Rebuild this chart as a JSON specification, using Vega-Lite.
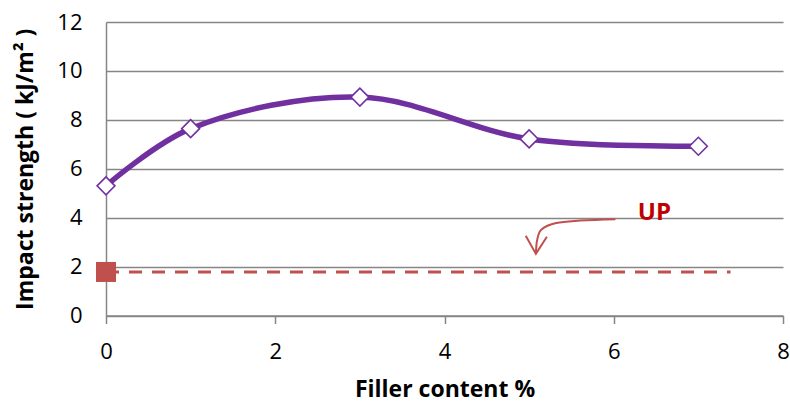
{
  "$schema": "https://vega.github.io/schema/vega-lite/v6.json",
  "width": 677,
  "height": 293.5,
  "autosize": {"type": "none"},
  "padding": {"left": 106, "top": 22, "right": 7, "bottom": 87},
  "background": "white",
  "config": {
    "view": {"stroke": null},
    "font": "Open Sans",
    "axis": {"labelFont": "Open Sans", "titleFont": "Open Sans", "labelColor": "black", "titleColor": "black"}
  },
  "datasets": {
    "impact": [
      {"filler": 0, "strength": 5.3},
      {"filler": 1, "strength": 7.64},
      {"filler": 3, "strength": 8.93},
      {"filler": 5, "strength": 7.22},
      {"filler": 7, "strength": 6.92}
    ],
    "up": [
      {"filler": 0, "strength": 1.78},
      {"filler": 7.38, "strength": 1.78}
    ],
    "arrow": [
      {"filler": 6.02, "strength": 3.94, "order": 1},
      {"filler": 5.6, "strength": 3.88, "order": 2},
      {"filler": 5.32, "strength": 3.78, "order": 3},
      {"filler": 5.14, "strength": 3.5, "order": 4},
      {"filler": 5.09, "strength": 3.0, "order": 5},
      {"filler": 5.08, "strength": 2.55, "order": 6}
    ],
    "head": [
      {"filler": 4.96, "strength": 3.26, "order": 1},
      {"filler": 5.08, "strength": 2.52, "order": 2},
      {"filler": 5.21, "strength": 3.22, "order": 3}
    ],
    "label": [
      {"filler": 6.48, "strength": 4.2, "text": "UP"}
    ]
  },
  "layer": [
    {
      "data": {"name": "impact"},
      "mark": {"type": "line", "color": "#7030A0", "strokeWidth": 5.5, "interpolate": "catmull-rom"},
      "encoding": {
        "x": {
          "field": "filler", "type": "quantitative",
          "scale": {"domain": [0, 8], "nice": false, "zero": false},
          "axis": {
            "title": "Filler content %", "values": [0, 2, 4, 6, 8], "format": "d", "grid": false,
            "domainColor": "#868686", "domainWidth": 1.5, "tickColor": "#868686", "tickWidth": 1.5, "tickSize": 8,
            "labelFontSize": 22, "labelPadding": 18, "labelFlush": false,
            "titleFontSize": 23, "titleFontWeight": "bold", "titlePadding": 16
          }
        },
        "y": {
          "field": "strength", "type": "quantitative",
          "scale": {"domain": [0, 12], "nice": false},
          "axis": {
            "title": "Impact strength ( kJ/m² )", "values": [0, 2, 4, 6, 8, 10, 12], "format": "d",
            "grid": true, "gridColor": "#868686", "gridWidth": 1.5, "gridOpacity": 1,
            "domainColor": "#868686", "domainWidth": 1.5, "ticks": false,
            "labelFontSize": 22, "labelPadding": 24, "labelFlush": false,
            "titleFontSize": 23, "titleFontWeight": "bold", "titlePadding": 19
          }
        }
      }
    },
    {
      "data": {"name": "impact"},
      "mark": {"type": "point", "shape": "diamond", "size": 320, "filled": false, "fill": "white", "fillOpacity": 1, "stroke": "#7030A0", "strokeWidth": 1.6, "opacity": 1},
      "encoding": {
        "x": {"field": "filler", "type": "quantitative"},
        "y": {"field": "strength", "type": "quantitative"}
      }
    },
    {
      "data": {"name": "up"},
      "mark": {"type": "line", "color": "#C0504D", "strokeWidth": 3, "strokeDash": [13, 10]},
      "encoding": {
        "x": {"field": "filler", "type": "quantitative"},
        "y": {"field": "strength", "type": "quantitative"}
      }
    },
    {
      "data": {"name": "up"},
      "transform": [{"filter": "datum.filler == 0"}],
      "mark": {"type": "square", "size": 400, "color": "#C0504D", "opacity": 1},
      "encoding": {
        "x": {"field": "filler", "type": "quantitative"},
        "y": {"field": "strength", "type": "quantitative"}
      }
    },
    {
      "data": {"name": "arrow"},
      "mark": {"type": "line", "color": "#C0504D", "strokeWidth": 2, "interpolate": "monotone"},
      "encoding": {
        "x": {"field": "filler", "type": "quantitative"},
        "y": {"field": "strength", "type": "quantitative"},
        "order": {"field": "order"}
      }
    },
    {
      "data": {"name": "head"},
      "mark": {"type": "line", "color": "#C0504D", "strokeWidth": 2},
      "encoding": {
        "x": {"field": "filler", "type": "quantitative"},
        "y": {"field": "strength", "type": "quantitative"},
        "order": {"field": "order"}
      }
    },
    {
      "data": {"name": "label"},
      "mark": {"type": "text", "font": "Open Sans", "fontSize": 24, "fontWeight": "bold", "color": "#C00000", "align": "center", "baseline": "middle"},
      "encoding": {
        "x": {"field": "filler", "type": "quantitative"},
        "y": {"field": "strength", "type": "quantitative"},
        "text": {"field": "text"}
      }
    }
  ]
}
